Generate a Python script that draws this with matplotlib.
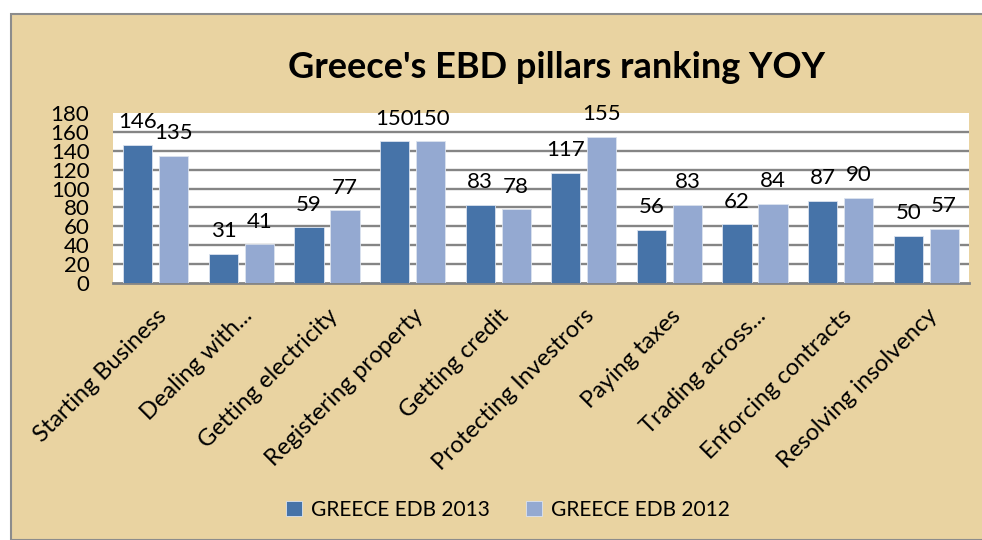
import matplotlib.pyplot as plt
import matplotlib.patches as mpatches
import numpy as np

plt.rcParams['font.family'] = ['Lato', 'DejaVu Sans']

# Doing Business pillar rankings for Greece, two editions
pillars = ["Starting Business", "Dealing with...", "Getting electricity",
           "Registering property", "Getting credit", "Protecting Investrors",
           "Paying taxes", "Trading across...", "Enforcing contracts",
           "Resolving insolvency"]
edb2013 = [146, 31, 59, 150, 83, 117, 56, 62, 87, 50]
edb2012 = [135, 41, 77, 150, 78, 155, 83, 84, 90, 57]
yticks = [0, 20, 40, 60, 80, 100, 120, 140, 160, 180]

c2013 = '#4673A8'
c2012 = '#94A9D1'
paper = '#E9D3A1'

fig = plt.figure(figsize=(9.82, 5.4), dpi=100)
fig.patch.set_facecolor('white')

# parchment panel behind the chart
panel = mpatches.Rectangle((11 / 982, 0), 1, 1 - 14 / 540, transform=fig.transFigure,
                           facecolor=paper, edgecolor='#8c8c8c', linewidth=1.5, zorder=-5)
fig.patches.append(panel)

ax = fig.add_axes([113 / 982, 1 - 283 / 540, 856 / 982, 170 / 540])
ax.set_facecolor('white')

x = np.arange(len(pillars))
w = 0.34
b1 = ax.bar(x - 0.21, edb2013, w, color=c2013, edgecolor='#dbe3ef', linewidth=0.6,
            label='GREECE EDB 2013', zorder=3)
b2 = ax.bar(x + 0.21, edb2012, w, color=c2012, edgecolor='#dbe3ef', linewidth=0.6,
            label='GREECE EDB 2012', zorder=3)

for bars, vals in ((b1, edb2013), (b2, edb2012)):
    for r, v in zip(bars, vals):
        ax.annotate(str(v), (r.get_x() + r.get_width() / 2, v), xytext=(0, 12),
                    textcoords='offset points', ha='center', va='baseline',
                    fontsize=16, annotation_clip=False, zorder=5)

for t in yticks[1:-1]:
    ax.axhline(t, color='#858585', linewidth=1.7, zorder=1)

ax.set_xlim(-0.5, len(pillars) - 0.5)
ax.set_ylim(0, 180)
ax.set_yticks(yticks)
ax.set_yticklabels([str(t) for t in yticks], fontsize=16)
ax.set_xticks(x)
ax.set_xticklabels(pillars, rotation=45, ha='right', va='top',
                   rotation_mode='anchor', fontsize=17)
ax.tick_params(axis='both', length=0)
ax.tick_params(axis='y', pad=17)
ax.tick_params(axis='x', pad=16)

for s in ('top', 'left', 'right'):
    ax.spines[s].set_visible(False)
ax.spines['bottom'].set_color('#858585')
ax.spines['bottom'].set_linewidth(2)

fig.text(557 / 982, 1 - 67 / 540, "Greece's EBD pillars ranking YOY",
         ha='center', va='center', fontsize=26, fontweight='bold')

fig.legend(handles=[b1, b2], loc='center', bbox_to_anchor=(508 / 982, 1 - 510 / 540),
           ncol=2, frameon=False, fontsize=15, handlelength=0.75, handleheight=0.75,
           handletextpad=0.45, columnspacing=1.75)

fig.savefig('out.png', dpi=100, facecolor=fig.get_facecolor())
